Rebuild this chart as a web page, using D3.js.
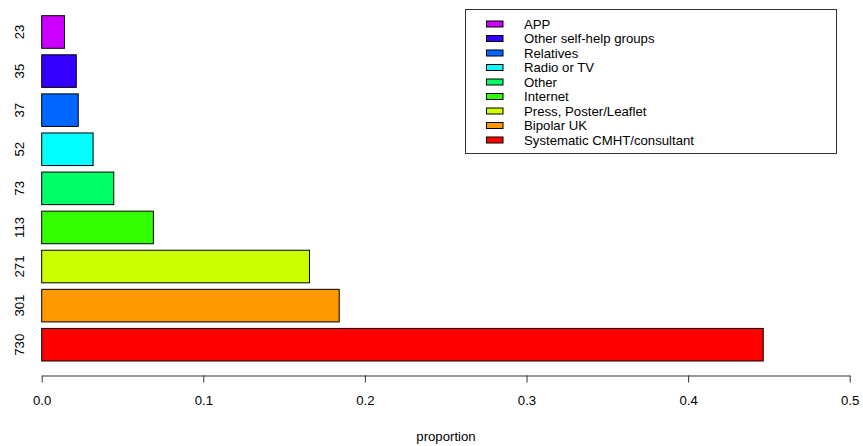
<!doctype html>
<html lang="en">
<head>
  <meta charset="utf-8">
  <title>Proportion by source</title>
  <script src="https://cdnjs.cloudflare.com/ajax/libs/d3/7.8.5/d3.min.js"></script>
  <style>
    body { margin:0; background:#fff; }
    svg { display:block; font-family:"Liberation Sans", Arial, sans-serif; }
    .tick-label, .bar-label, .legend-label, .axis-title { font-size:13.2px; fill:#000; }
  </style>
</head>
<body>
  <svg width="863" height="446"></svg>
  <script>
  // bars from bottom to top
  const categories = ["Systematic CMHT/consultant","Bipolar UK","Press, Poster/Leaflet","Internet","Other","Radio or TV","Relatives","Other self-help groups","APP"];
  const counts = [730, 301, 271, 113, 73, 52, 37, 35, 23];
  const proportions = [0.4465, 0.1841, 0.1657, 0.0691, 0.0446, 0.0318, 0.0226, 0.0214, 0.0141];
  const colors = ["#FF0000","#FF9900","#CCFF00","#33FF00","#00FF66","#00FFFF","#0066FF","#3300FF","#CC00FF"];
  const xTicks = [0, 0.1, 0.2, 0.3, 0.4, 0.5];

  const svg = d3.select("svg");

  const xScale = d3.scaleLinear().domain([0, 0.5]).range([41.7, 849.7]);

  // R barplot: space 0.2 between bars of width 1
  const yScale = d3.scaleBand()
    .domain(d3.range(categories.length))
    .range([361, 15.7])
    .paddingInner(0.2/1.2)
    .paddingOuter(0);

  const data = categories.map((c,i)=>({cat:c, n:counts[i], p:proportions[i], col:colors[i], i:i}));

  svg.append("g")
    .selectAll("rect")
    .data(data)
    .enter()
    .append("rect")
    .attr("x", xScale(0))
    .attr("y", d=>yScale(d.i))
    .attr("width", d=>xScale(d.p)-xScale(0))
    .attr("height", yScale.bandwidth())
    .attr("fill", d=>d.col)
    .attr("stroke", "#000")
    .attr("stroke-width", 1);

  // count labels on the left, rotated
  svg.append("g")
    .selectAll("text")
    .data(data)
    .enter()
    .append("text")
    .attr("class","bar-label")
    .attr("transform", d=>`translate(24,${yScale(d.i)+yScale.bandwidth()/2}) rotate(-90)`)
    .attr("text-anchor","middle")
    .text(d=>d.n);

  // x axis
  const xAxis = d3.axisBottom(xScale)
    .tickValues(xTicks)
    .tickFormat(d3.format(".1f"))
    .tickSize(7)
    .tickSizeOuter(0);

  const gx = svg.append("g")
    .attr("transform","translate(0,375.5)")
    .call(xAxis);
  gx.select(".domain").attr("stroke","#333");
  gx.selectAll(".tick line").attr("stroke","#333");
  gx.selectAll(".tick text")
    .attr("class","tick-label")
    .attr("y", 25)
    .attr("dy", "0.35em")
    .style("font-family","Liberation Sans, Arial, sans-serif")
    .style("font-size","13.2px");

  svg.append("text")
    .attr("class","axis-title")
    .attr("x", 446)
    .attr("y", 440.5)
    .attr("text-anchor","middle")
    .text("proportion");

  // legend (top to bottom: reversed order)
  const legendData = data.slice().reverse();
  const ly = d3.scalePoint()
    .domain(legendData.map(d=>d.cat))
    .range([24, 140]);

  svg.append("rect")
    .attr("x", 465.5)
    .attr("y", 9.5)
    .attr("width", 371)
    .attr("height", 144)
    .attr("fill","none")
    .attr("stroke","#333");

  const lg = svg.append("g")
    .selectAll("g")
    .data(legendData)
    .enter()
    .append("g")
    .attr("transform", d=>`translate(0,${ly(d.cat)})`);

  lg.append("rect")
    .attr("x", 486.5)
    .attr("y", -3)
    .attr("width", 16.5)
    .attr("height", 6)
    .attr("fill", d=>d.col)
    .attr("stroke","#000");

  lg.append("text")
    .attr("class","legend-label")
    .attr("x", 524)
    .attr("dy","0.35em")
    .text(d=>d.cat);
  </script>
</body>
</html>
